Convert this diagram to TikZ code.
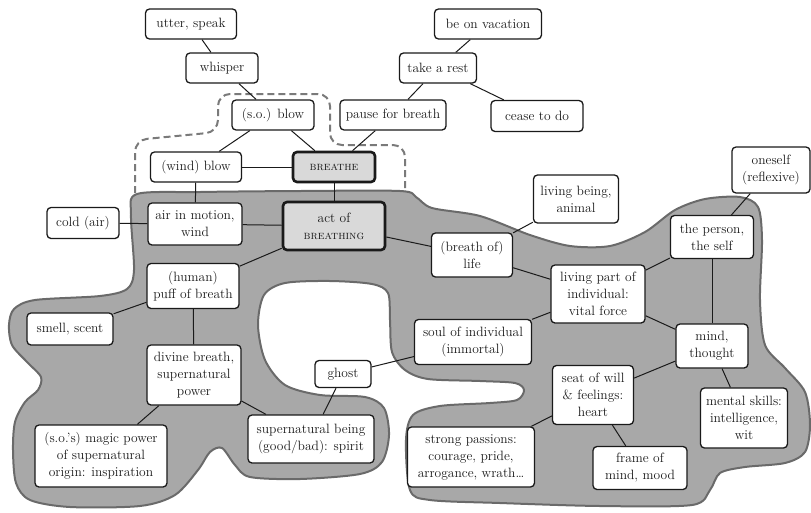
\documentclass[tikz,border=0pt]{standalone}
\usepackage{tikz}
\definecolor{blobfill}{HTML}{A8A8A8}
\definecolor{blobline}{HTML}{6A6A6A}
\definecolor{ink}{HTML}{1A1A1A}
\definecolor{keyfill}{HTML}{D9D9D9}
\definecolor{dashgrey}{HTML}{7A7A7A}
\begin{document}
\begin{tikzpicture}[x=1pt,y=-1pt,
  box/.style={draw=ink, line width=1.3pt, fill=white, rounded corners=4pt, align=center,
    inner sep=2pt, text=ink, font=\fontsize{13.5}{17}\selectfont},
  keybox/.style={box, fill=keyfill, line width=2.6pt},
  link/.style={draw=ink, line width=1pt},
  blob/.style={fill=blobfill, draw=blobline, line width=2pt},
  hull/.style={draw=dashgrey, line width=2pt, dash pattern=on 7pt off 4pt, rounded corners=12pt}]
\useasboundingbox (0,0) rectangle (811,512);

% grey region
\path[blob] plot[smooth cycle, tension=0.5] coordinates {
 (131,215) (137,194) (200,192) (300,191) (400,191) (416,197) (432,208) (480,216)
 (530,235) (570,246) (610,246) (645,232) (675,210) (705,199) (740,197) (758,207)
 (762,240) (760,300) (765,345) (785,368) (805,392) (810,425) (805,452) (785,463)
 (745,467) (720,473) (710,490) (692,505) (600,506) (500,503) (430,500) (410,490)
 (406,440) (413,415) (440,406) (490,403) (517,400) (524,390) (515,383) (480,381)
 (428,379) (405,370) (392,352) (390,320) (388,293) (372,284) (330,281) (285,283)
 (264,295) (258,325) (265,360) (285,385) (320,395) (365,397) (384,408) (389,435)
 (382,462) (360,474) (300,479) (250,477) (235,465) (222,448) (210,452) (198,470)
 (175,495) (140,506) (70,507) (30,500) (16,483) (13,450) (15,422) (25,402)
 (38,390) (41,377) (27,362) (12,345) (9,325) (14,309) (35,300) (100,296)
 (127,289) (134,270)};

% dashed hull
\coordinate (h0) at (135,193);
\coordinate (h1) at (405,192);
\draw[hull] (h0) -- (135,140) -- (218,132) -- (218,94) -- (330,94) -- (330,145) -- (405,145) -- (h1);

% nodes
\node[box, minimum width=91pt, minimum height=30pt] (utter) at (191,24) {utter, speak};
\node[box, minimum width=72pt, minimum height=30pt] (whisper) at (222,68) {whisper};
\node[box, minimum width=82pt, minimum height=30pt] (soblow) at (273,115) {(s.o.) blow};
\node[box, minimum width=91pt, minimum height=30pt] (windblow) at (196,167) {(wind) blow};
\node[keybox, minimum width=82pt, minimum height=30pt, font=\fontsize{12}{14}\selectfont] (breathe) at (334,167) {\textsc{breathe}};
\node[box, minimum width=72pt, minimum height=31pt] (cold) at (83,223) {cold (air)};
\node[box, minimum width=94pt, minimum height=42pt] (air) at (195,224) {air in motion,\\wind};
\node[keybox, minimum width=102pt, minimum height=48pt] (act) at (334,226) {act of\\{\fontsize{12}{14}\selectfont\textsc{breathing}}};
\node[box, minimum width=107pt, minimum height=30pt] (vacation) at (488,24) {be on vacation};
\node[box, minimum width=77pt, minimum height=30pt] (rest) at (438,68) {take a rest};
\node[box, minimum width=106pt, minimum height=30pt] (pause) at (393,115) {pause for breath};
\node[box, minimum width=92pt, minimum height=31pt] (cease) at (537,116) {cease to do};
\node[box, minimum width=78pt, minimum height=46pt] (oneself) at (771,170) {oneself\\(reflexive)};
\node[box, minimum width=85pt, minimum height=48pt] (living) at (576,199) {living being,\\animal};
\node[box, minimum width=83pt, minimum height=43pt] (person) at (712,237) {the person,\\the self};
\node[box, minimum width=81pt, minimum height=44pt] (life) at (472,255) {(breath of)\\life};
\node[box, minimum width=94pt, minimum height=58pt] (vital) at (598,294) {living part of\\individual:\\vital force};
\node[box, minimum width=117pt, minimum height=45pt] (soul) at (473,342) {soul of individual\\(immortal)};
\node[box, minimum width=72pt, minimum height=44pt] (mind) at (712,346) {mind,\\thought};
\node[box, minimum width=81pt, minimum height=59pt] (heart) at (593,395) {seat of will\\\& feelings:\\heart};
\node[box, minimum width=87pt, minimum height=60pt] (skills) at (744,418) {mental skills:\\intelligence,\\wit};
\node[box, minimum width=127pt, minimum height=60pt] (passions) at (471,457) {strong passions:\\courage, pride,\\arrogance, wrath\ldots};
\node[box, minimum width=94pt, minimum height=43pt] (mood) at (640,468) {frame of\\mind, mood};
\node[box, minimum width=92pt, minimum height=45pt] (puff) at (193,286) {(human)\\puff of breath};
\node[box, minimum width=86pt, minimum height=32pt] (smell) at (70,329) {smell, scent};
\node[box, minimum width=94pt, minimum height=60pt] (divine) at (194,375) {divine breath,\\supernatural\\power};
\node[box, minimum width=56pt, minimum height=27pt] (ghost) at (343,374) {ghost};
\node[box, minimum width=132pt, minimum height=62pt] (magic) at (101,456) {(s.o.'s) magic power\\of supernatural\\origin: inspiration};
\node[box, minimum width=126pt, minimum height=48pt] (spirit) at (311,439) {supernatural being\\(good/bad): spirit};

% connectors
\draw[link] (utter) -- (whisper);
\draw[link] (whisper) -- (soblow);
\draw[link] (soblow) -- (windblow);
\draw[link] (soblow) -- (breathe);
\draw[link] (windblow) -- (breathe);
\draw[link] (pause) -- (breathe);
\draw[link] (rest) -- (pause);
\draw[link] (vacation) -- (rest);
\draw[link] (rest) -- (cease);
\draw[link] (breathe) -- (act);
\draw[link] (windblow) -- (air);
\draw[link] (cold) -- (air);
\draw[link] (air) -- (act);
\draw[link] (act) -- (puff);
\draw[link] (act) -- (life);
\draw[link] (life) -- (living);
\draw[link] (life) -- (vital);
\draw[link] (puff) -- (smell);
\draw[link] (puff) -- (divine);
\draw[link] (divine) -- (magic);
\draw[link] (divine) -- (spirit);
\draw[link] (ghost) -- (spirit);
\draw[link] (ghost) -- (soul);
\draw[link] (soul) -- (vital);
\draw[link] (vital) -- (person);
\draw[link] (vital) -- (mind);
\draw[link] (person) -- (oneself);
\draw[link] (person) -- (mind);
\draw[link] (mind) -- (heart);
\draw[link] (mind) -- (skills);
\draw[link] (heart) -- (passions);
\draw[link] (heart) -- (mood);
\end{tikzpicture}
\end{document}
